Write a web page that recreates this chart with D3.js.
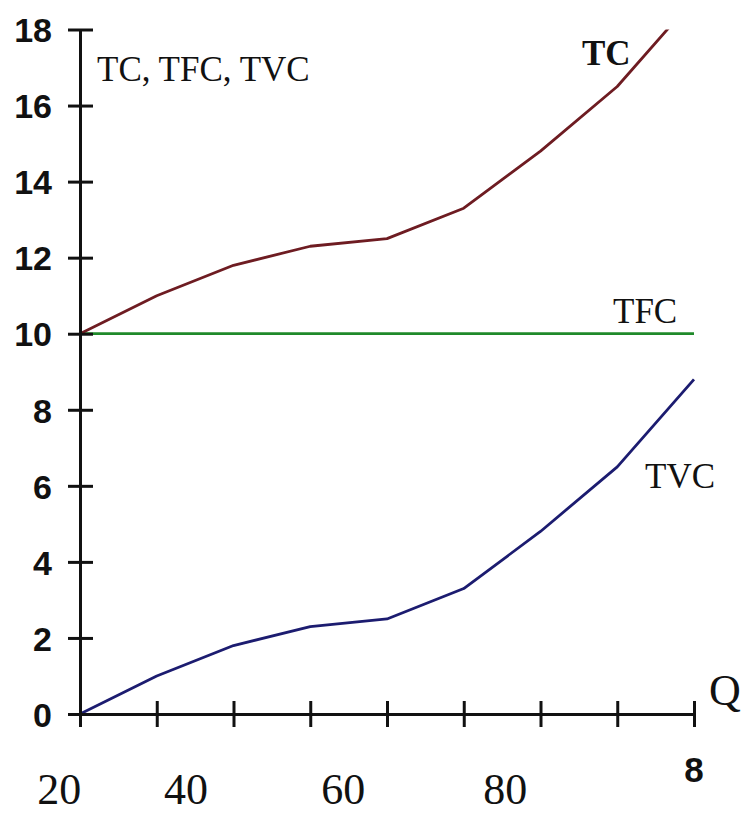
<!DOCTYPE html>
<html>
<head>
<meta charset="utf-8">
<script src="https://cdn.jsdelivr.net/npm/d3@7"></script>
<style>
  body { margin: 0; background: #fff; }
  .serif { font-family: "Liberation Serif", "DejaVu Serif", serif; fill: #111; }
  .ylab { font-family: "Liberation Sans", Arial, sans-serif; font-weight: bold; font-size: 34px; fill: #111; }
</style>
</head>
<body>
<div id="chart"></div>
<script>
// output steps along the Q axis
var q = [0, 1, 2, 3, 4, 5, 6, 7, 8];
// cost curves
var tvc = [0, 1, 1.8, 2.3, 2.5, 3.3, 4.8, 6.5, 8.8];
var tfc = [10, 10, 10, 10, 10, 10, 10, 10, 10];
var tc = [10, 11, 11.8, 12.3, 12.5, 13.3, 14.8, 16.5, 18.8];
var yTicks = [0, 2, 4, 6, 8, 10, 12, 14, 16, 18];
// odd labels under the axis, with where they sit in Q units
var qLabels = ['20', '40', '60', '80'];
var qLabelPos = [-0.27, 1.38, 3.43, 5.54];

var W = 743, H = 815;
var svg = d3.select('#chart').append('svg')
  .attr('width', W)
  .attr('height', H);

var x = d3.scaleLinear().domain([0, 8]).range([80, 694]);
var y = d3.scaleLinear().domain([0, 18]).range([714, 29.5]);

// clip so TC stops at the top of the axis
svg.append('clipPath').attr('id', 'plotclip')
  .append('rect')
  .attr('x', x(0) - 2).attr('y', y(18))
  .attr('width', x(8) - x(0) + 10).attr('height', y(0) - y(18) + 4);

var line = d3.line()
  .x(function (d, i) { return x(q[i]); })
  .y(function (d) { return y(d); });

var curves = [
  { vals: tfc, color: '#1f8a2a' },
  { vals: tvc, color: '#1c1c70' },
  { vals: tc, color: '#6e1c22' }
];

svg.append('g').attr('clip-path', 'url(#plotclip)')
  .selectAll('path')
  .data(curves)
  .enter()
  .append('path')
  .attr('d', function (d) { return line(d.vals); })
  .attr('fill', 'none')
  .attr('stroke', function (d) { return d.color; })
  .attr('stroke-width', 2.8)
  .attr('stroke-linejoin', 'round');

// y axis
var yAxis = svg.append('g')
  .attr('transform', 'translate(' + x(0) + ',0)')
  .call(d3.axisLeft(y).tickValues(yTicks).tickSizeOuter(0).tickFormat(d3.format('d')));
yAxis.select('.domain').attr('stroke', '#111').attr('stroke-width', 3);
yAxis.selectAll('.tick line').attr('x1', -12).attr('x2', 13)
  .attr('stroke', '#111').attr('stroke-width', 3);
yAxis.selectAll('.tick text')
  .attr('class', 'ylab')
  .attr('x', -28)
  .attr('dy', '0.36em');
yAxis.attr('font-size', null).attr('font-family', null);

// x axis
var xAxis = svg.append('g')
  .attr('transform', 'translate(0,' + y(0) + ')')
  .call(d3.axisBottom(x).tickValues(q).tickSizeOuter(0).tickFormat(''));
xAxis.select('.domain').attr('stroke', '#111').attr('stroke-width', 3);
xAxis.selectAll('.tick line').attr('y1', -13).attr('y2', 13)
  .attr('stroke', '#111').attr('stroke-width', 3);

// labels under the Q axis
svg.selectAll('text.qlab')
  .data(qLabels)
  .enter()
  .append('text')
  .attr('class', 'qlab serif')
  .attr('x', function (d, i) { return x(qLabelPos[i]); })
  .attr('y', 804)
  .attr('text-anchor', 'middle')
  .attr('font-size', 44)
  .text(function (d) { return d; });

svg.append('text')
  .attr('class', 'ylab')
  .attr('x', x(8))
  .attr('y', 782)
  .attr('text-anchor', 'middle')
  .attr('font-size', 35)
  .style('font-size', '35px')
  .text('8');

svg.append('text').attr('class', 'serif')
  .attr('x', 709).attr('y', 705)
  .attr('font-size', 44)
  .text('Q');

// curve names and axis title
svg.append('text').attr('class', 'serif')
  .attr('x', 97).attr('y', 81).attr('font-size', 35)
  .text('TC, TFC, TVC');
svg.append('text').attr('class', 'serif')
  .attr('x', 582).attr('y', 65).attr('font-size', 35)
  .style('font-weight', 'bold')
  .text('TC');
svg.append('text').attr('class', 'serif')
  .attr('x', 613).attr('y', 323).attr('font-size', 35)
  .text('TFC');
svg.append('text').attr('class', 'serif')
  .attr('x', 645).attr('y', 488).attr('font-size', 35)
  .text('TVC');
</script>
</body>
</html>
